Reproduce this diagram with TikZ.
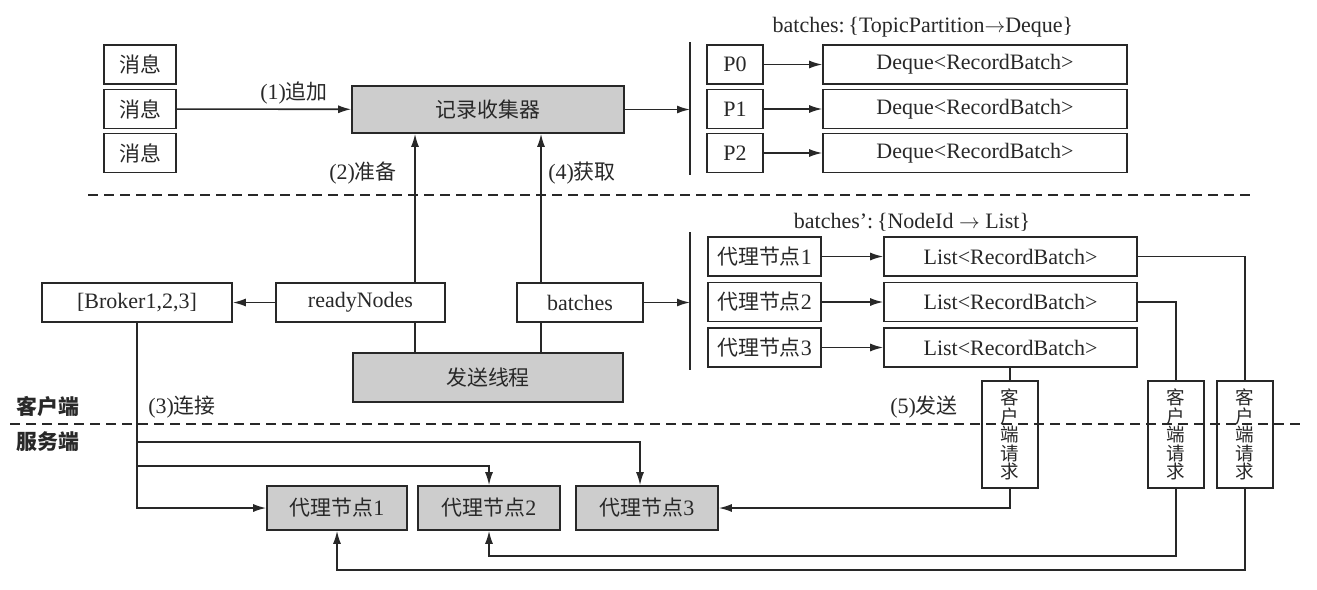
\documentclass[tikz,border=0pt]{standalone}
\usepackage{fontspec}
\setmainfont{Liberation Serif}
\newfontfamily\cjkfont[Scale=0.95]{Noto Sans CJK SC}
\newcommand\zh[1]{{\cjkfont #1}}
\usetikzlibrary{arrows.meta}
\definecolor{ink}{RGB}{40,40,40}
\definecolor{boxgray}{RGB}{205,205,205}
\begin{document}
\begin{tikzpicture}[x=1pt,y=-1pt,line width=1.6pt,draw=ink,text=ink,
  font=\fontsize{22}{24}\selectfont,
  box/.style={draw=ink,line width=1.6pt,minimum height=39pt,inner sep=0pt},
  gbox/.style={box,fill=boxgray},
  arr/.style={-{Latex[length=13pt,width=8pt]}},
  lbl/.style={inner sep=0pt},
  dashline/.style={dash pattern=on 10pt off 6pt},
  vtext/.style={draw=ink,line width=1.6pt,inner sep=0pt,minimum width=56pt,minimum height=107pt,align=center,
    font=\fontsize{19.5}{18.6}\selectfont\cjkfont}]
\useasboundingbox (0,0) rectangle (1317,589);
\fill[white] (0,0) rectangle (1317,589);
% top section
\node[box,minimum width=72pt] (m1) at (140,64.5) {\zh{消息}};
\node[box,minimum width=72pt] (m2) at (140,109) {\zh{消息}};
\node[box,minimum width=72pt] (m3) at (140,153) {\zh{消息}};
\node[gbox,minimum width=272pt,minimum height=47pt] (acc) at (488,109.5) {\zh{记录收集器}};
\node[lbl] (t1) at (923,27) {batches:\,\{TopicPartition$\rightarrow$Deque\}};
\coordinate (bar1a) at (690,42);
\coordinate (bar1b) at (690,175);
\draw (bar1a) -- (bar1b);
\node[box,minimum width=56pt] (p0) at (735,64.5) {P0};
\node[box,minimum width=56pt] (p1) at (735,109) {P1};
\node[box,minimum width=56pt] (p2) at (735,153) {P2};
\node[box,minimum width=304pt] (d0) at (975,64.5) {Deque<RecordBatch>};
\node[box,minimum width=304pt] (d1) at (975,109) {Deque<RecordBatch>};
\node[box,minimum width=304pt] (d2) at (975,153) {Deque<RecordBatch>};
\coordinate (da1) at (88,195);
\coordinate (da2) at (1255,195);
\draw[dashline] (da1) -- (da2);
\node[lbl] (l1) at (294,93) {(1)\zh{追加}};
\node[lbl] (l2) at (363,173) {(2)\zh{准备}};
\node[lbl] (l4) at (582,173) {(4)\zh{获取}};
% middle section
\node[lbl] (t2) at (912,222) {batches':\,\{NodeId $\rightarrow$ List\}};
\coordinate (bar2a) at (690,232);
\coordinate (bar2b) at (690,370);
\draw (bar2a) -- (bar2b);
\node[box,minimum width=113pt] (n1) at (764.5,256.5) {\zh{代理节点}1};
\node[box,minimum width=113pt] (n2) at (764.5,302) {\zh{代理节点}2};
\node[box,minimum width=113pt] (n3) at (764.5,347.5) {\zh{代理节点}3};
\node[box,minimum width=253pt] (ls1) at (1010.5,256.5) {List<RecordBatch>};
\node[box,minimum width=253pt] (ls2) at (1010.5,302) {List<RecordBatch>};
\node[box,minimum width=253pt] (ls3) at (1010.5,347.5) {List<RecordBatch>};
\node[box,minimum width=190pt] (bk) at (137,302.5) {[Broker1,2,3]};
\node[box,minimum width=169pt] (rd) at (360.5,302.5) {readyNodes};
\node[box,minimum width=126pt] (bt) at (580,302.5) {batches};
\node[gbox,minimum width=270pt,minimum height=49pt] (snd) at (488,377.5) {\zh{发送线程}};
% client / server
\node[lbl] (cl) at (48,407) {\cjkfont\bfseries 客户端};
\node[lbl] (sv) at (48,442) {\cjkfont\bfseries 服务端};
\node[lbl] (l3) at (182,407) {(3)\zh{连接}};
\node[lbl] (l5) at (924,407) {(5)\zh{发送}};
\coordinate (db1) at (10,424);
\coordinate (db2) at (1302,424);
\draw[dashline] (db1) -- (db2);
\node[gbox,minimum width=140pt,minimum height=44pt] (k1) at (337,508) {\zh{代理节点}1};
\node[gbox,minimum width=142pt,minimum height=44pt] (k2) at (489,508) {\zh{代理节点}2};
\node[gbox,minimum width=142pt,minimum height=44pt] (k3) at (647,508) {\zh{代理节点}3};
\node[vtext] (ca) at (1010,434.5) {客\\户\\端\\请\\求};
\node[vtext] (cb) at (1176,434.5) {客\\户\\端\\请\\求};
\node[vtext] (cc) at (1245,434.5) {客\\户\\端\\请\\求};
% connectors
\draw[arr] (m2) -- (acc);
\draw[arr] (acc.east) -- (bar1a |- acc.east);
\draw[arr] (p0) -- (d0);
\draw[arr] (p1) -- (d1);
\draw[arr] (p2) -- (d2);
\coordinate (xr) at (415,0);
\coordinate (xb) at (541,0);
\draw[arr] (rd.north -| xr) -- (acc.south -| xr);
\draw (rd.south -| xr) -- (snd.north -| xr);
\draw[arr] (bt.north -| xb) -- (acc.south -| xb);
\draw (bt.south -| xb) -- (snd.north -| xb);
\draw[arr] (rd) -- (bk);
\draw[arr] (bt.east) -- (bar2a |- bt.east);
\draw[arr] (n1) -- (ls1);
\draw[arr] (n2) -- (ls2);
\draw[arr] (n3) -- (ls3);
\draw (ls1.east) -| (cc.north);
\draw (ls2.east) -| (cb.north);
\draw (ca.north |- ls3.south) -- (ca.north);
\draw[arr] (bk.south) |- (k1.west);
\coordinate (j1) at (137,442);
\coordinate (j2) at (137,466);
\coordinate (x3) at (640,0);
\draw[arr] (j1) -| (k3.north -| x3);
\draw[arr] (j2) -| (k2.north);
\draw[arr] (ca.south) |- (k3.east);
\coordinate (yb) at (0,556);
\coordinate (yc) at (0,570);
\draw[arr] (cb.south) -- (cb.south |- yb) -| (k2.south);
\draw[arr] (cc.south) -- (cc.south |- yc) -| (k1.south);
\end{tikzpicture}
\end{document}
